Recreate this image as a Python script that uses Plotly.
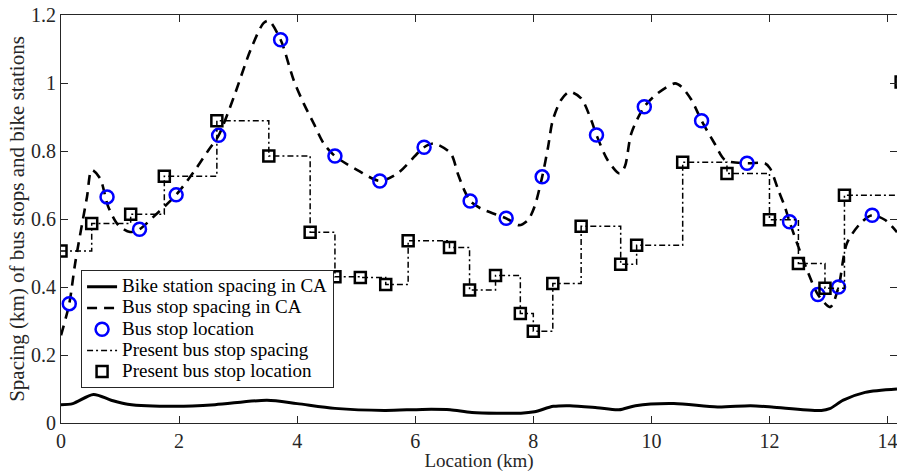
import plotly.graph_objects as go

# Bike station spacing in CA (solid)
bike_x = [0, 0.2, 0.55, 0.85, 1.13, 1.96, 2.61, 3.49, 4.0, 4.64, 5.48, 6.12, 6.59, 6.96, 7.79, 8.02,
          8.34, 8.62, 9.08, 9.45, 9.73, 10.38, 11.12, 11.68, 12.04, 12.88, 13.02, 13.25, 13.62, 14.16]
bike_y = [0.054, 0.057, 0.084, 0.067, 0.055, 0.049, 0.054, 0.067, 0.057, 0.043, 0.037, 0.040, 0.039,
          0.031, 0.029, 0.033, 0.049, 0.051, 0.045, 0.039, 0.051, 0.057, 0.047, 0.051, 0.047, 0.037,
          0.042, 0.067, 0.090, 0.100]

# Bus stop spacing in CA (dashed)
bus_x = [0, 0.14, 0.24, 0.44, 0.52, 0.66, 0.8, 0.97, 1.17, 1.33, 1.57, 1.95, 2.25, 2.5, 2.67, 2.93, 3.21,
         3.43, 3.52, 3.72, 3.94, 4.11, 4.28, 4.45, 4.64, 5.02, 5.40, 5.70, 6.15, 6.32, 6.60, 6.72, 6.83,
         6.93, 7.11, 7.54, 7.76, 7.91, 8.02, 8.15, 8.25, 8.33, 8.47, 8.61, 8.81, 8.98, 9.07, 9.26, 9.46,
         9.55, 9.66, 9.88, 10.11, 10.40, 10.51, 10.68, 10.85, 11.07, 11.25, 11.62, 11.92, 12.01, 12.15,
         12.26, 12.34, 12.49, 12.66, 12.82, 13.03, 13.17, 13.31, 13.54, 13.74, 13.96, 14.16]
bus_y = [0.258, 0.351, 0.47, 0.665, 0.744, 0.72, 0.636, 0.582, 0.562, 0.570, 0.607, 0.671, 0.739, 0.803,
         0.846, 0.96, 1.097, 1.176, 1.183, 1.127, 1.009, 0.940, 0.881, 0.822, 0.785, 0.744, 0.712, 0.734,
         0.811, 0.822, 0.793, 0.734, 0.685, 0.653, 0.631, 0.602, 0.582, 0.597, 0.636, 0.724, 0.812, 0.891,
         0.95, 0.974, 0.955, 0.891, 0.847, 0.773, 0.734, 0.754, 0.852, 0.930, 0.970, 0.999, 0.989, 0.95,
         0.889, 0.822, 0.773, 0.764, 0.764, 0.749, 0.685, 0.636, 0.592, 0.518, 0.44, 0.378, 0.341, 0.400,
         0.528, 0.587, 0.611, 0.597, 0.561]

# Bus stop location (blue circles)
stop_x = [0.14, 0.78, 1.33, 1.95, 2.67, 3.72, 4.64, 5.40, 6.15, 6.93, 7.54, 8.15, 9.07, 9.88, 10.85,
          11.62, 12.34, 12.82, 13.17, 13.74]
stop_y = [0.351, 0.665, 0.570, 0.671, 0.846, 1.127, 0.785, 0.712, 0.811, 0.653, 0.602, 0.724, 0.847,
          0.930, 0.889, 0.764, 0.592, 0.378, 0.400, 0.611]

# Present bus stop location / spacing (squares, dash-dot step)
pres_x = [0.0, 0.52, 1.18, 1.75, 2.64, 3.52, 4.22, 4.64, 5.07, 5.50, 5.88, 6.58, 6.92, 7.36, 7.78, 8.00,
          8.33, 8.81, 9.48, 9.75, 10.53, 11.28, 12.00, 12.49, 12.94, 13.27, 14.23]
pres_y = [0.506, 0.587, 0.614, 0.726, 0.889, 0.785, 0.561, 0.430, 0.428, 0.407, 0.536, 0.516, 0.391,
          0.434, 0.322, 0.270, 0.410, 0.579, 0.467, 0.523, 0.767, 0.734, 0.598, 0.469, 0.396, 0.670, 1.003]

x_ticks = [0, 2, 4, 6, 8, 10, 12, 14]
y_ticks = [0, 0.2, 0.4, 0.6, 0.8, 1.0, 1.2]
y_tick_text = ["0", "0.2", "0.4", "0.6", "0.8", "1", "1.2"]

FONT = "Liberation Serif, Times New Roman, serif"
AX = "#262626"
TICKFS = 20


def lg(name):
    return '<span style="font-size:19px">' + name + '</span>'


fig = go.Figure()
fig.add_trace(go.Scatter(x=bike_x, y=bike_y, mode="lines", name=lg("Bike station spacing in CA"),
                         line=dict(color="black", width=3, shape="spline", smoothing=0.8)))
fig.add_trace(go.Scatter(x=bus_x, y=bus_y, mode="lines", name=lg("Bus stop spacing in CA"),
                         line=dict(color="black", width=2.6, dash="10px,7px", shape="spline", smoothing=0.8)))
fig.add_trace(go.Scatter(x=stop_x, y=stop_y, mode="markers", name=lg("Bus stop location"),
                         marker=dict(symbol="circle-open", size=13, color="#0000ff",
                                     line=dict(width=2.5, color="#0000ff"))))
fig.add_trace(go.Scatter(x=pres_x, y=pres_y, mode="lines", name=lg("Present bus stop spacing"),
                         line=dict(color="black", width=1.5, dash="6px,3px,2px,3px", shape="hv")))
fig.add_trace(go.Scatter(x=pres_x, y=pres_y, mode="markers", name=lg("Present bus stop location"),
                         marker=dict(symbol="square-open", size=11, color="black",
                                     line=dict(width=2.5, color="black"))))

fig.update_layout(
    width=897, height=472,
    margin=dict(l=61, r=0, t=15, b=49),
    paper_bgcolor="white", plot_bgcolor="white",
    font=dict(family=FONT, size=TICKFS, color=AX),
    showlegend=True,
    legend=dict(x=0.024, y=0.3745, xanchor="left", yanchor="top",
                bgcolor="white", bordercolor=AX, borderwidth=1,
                font=dict(family=FONT, size=14, color="black"),
                tracegroupgap=0, itemwidth=30),
    xaxis=dict(range=[0, 14.16], tickvals=x_ticks, ticks="inside", ticklen=7, tickcolor=AX,
               showline=True, linecolor=AX, linewidth=1, mirror="ticks", showgrid=False, zeroline=False,
               automargin=False, ticklabeloverflow="allow",
               title=dict(text="Location (km)", font=dict(family=FONT, size=19, color=AX), standoff=0),
               tickfont=dict(family=FONT, size=TICKFS, color=AX)),
    yaxis=dict(range=[0, 1.2], tickvals=y_ticks, ticktext=y_tick_text, ticks="inside", ticklen=7,
               tickcolor=AX, showline=True, linecolor=AX, linewidth=1, mirror="ticks", showgrid=False,
               zeroline=False, automargin=False,
               title=dict(text="Spacing (km) of bus stops and bike stations",
                          font=dict(family=FONT, size=21, color=AX), standoff=0),
               tickfont=dict(family=FONT, size=TICKFS, color=AX)),
)

fig.write_html("out.html")
